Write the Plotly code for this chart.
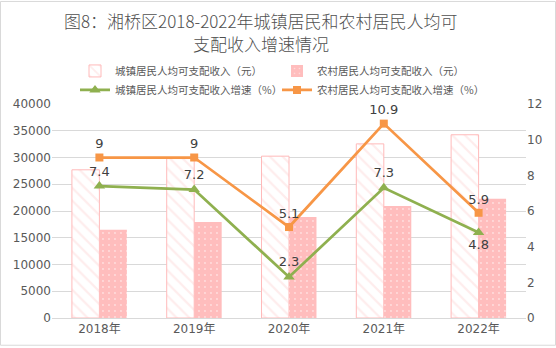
import plotly.graph_objects as go

years = ["2018年", "2019年", "2020年", "2021年", "2022年"]
urban_income = [27700, 29800, 30250, 32550, 34250]
rural_income = [16480, 17960, 18890, 20920, 22280]
urban_growth = [7.4, 7.2, 2.3, 7.3, 4.8]
rural_growth = [9, 9, 5.1, 10.9, 5.9]

urban_growth_pos = ["top center", "top center", "top center", "top center", "bottom center"]
rural_growth_pos = ["top center"] * 5

title_lines = ["图8：湘桥区2018-2022年城镇居民和农村居民人均可", "支配收入增速情况"]

W, H = 556, 348
ML, MR, MT, MB = 52, 30, 104, 28
PW, PH = W - ML - MR, H - MT - MB

PINK = "#FFBDBD"
PINK_LINE = "#FFBABA"
GREEN = "#8FB04F"
ORANGE = "#F79646"
TXT = "#595959"
FONT = "Noto Sans CJK SC, DejaVu Sans, sans-serif"

fig = go.Figure()

fig.add_trace(go.Bar(
    x=years, y=urban_income, name="城镇居民人均可支配收入（元）",
    marker=dict(color="white", line=dict(color=PINK_LINE, width=1),
                pattern=dict(shape="\\", fgcolor="#FDDADA", bgcolor="white",
                             size=9, solidity=0.25)),
    yaxis="y",
))
fig.add_trace(go.Bar(
    x=years, y=rural_income, name="农村居民人均可支配收入（元）",
    marker=dict(color=PINK, line=dict(width=0),
                pattern=dict(shape=".", fgcolor="white", bgcolor=PINK,
                             size=6, solidity=0.08)),
    yaxis="y",
))
fig.add_trace(go.Scatter(
    x=years, y=urban_growth, name="城镇居民人均可支配收入增速（%）",
    mode="lines+markers+text", text=[str(v) for v in urban_growth],
    textposition=urban_growth_pos,
    textfont=dict(size=13, color="#404040", family="DejaVu Sans"),
    line=dict(color=GREEN, width=2.75),
    marker=dict(symbol="triangle-up", size=10, color=GREEN),
    yaxis="y2",
))
fig.add_trace(go.Scatter(
    x=years, y=rural_growth, name="农村居民人均可支配收入增速（%）",
    mode="lines+markers+text", text=[str(v) for v in rural_growth],
    textposition=rural_growth_pos,
    textfont=dict(size=13, color="#404040", family="DejaVu Sans"),
    line=dict(color=ORANGE, width=2.75),
    marker=dict(symbol="square", size=8, color=ORANGE),
    yaxis="y2",
))

# title lines centred at x = 261 px
annotations = []
for i, line in enumerate(title_lines):
    annotations.append(dict(
        text=line, xref="paper", yref="paper", x=(261 - ML) / PW,
        xanchor="center", y=1 + (MT - 20 - 23 * i) / PH, yanchor="middle",
        showarrow=False, font=dict(size=17, color="#505050", family=FONT, weight=300),
    ))

fig.update_layout(
    width=W, height=H,
    margin=dict(l=ML, r=MR, t=MT, b=MB),
    paper_bgcolor="white", plot_bgcolor="white",
    font=dict(family=FONT, color=TXT, size=12),
    barmode="group", bargap=0.42, bargroupgap=0,
    showlegend=True,
    annotations=annotations,
    legend=dict(
        orientation="h", x=(75 - ML) / PW, xanchor="left",
        y=1 + (MT - 56) / PH, yanchor="top",
        entrywidth=157, entrywidthmode="pixels",
        font=dict(size=10.5, color=TXT, family=FONT),
        tracegroupgap=0, itemwidth=30, bgcolor="rgba(0,0,0,0)",
    ),
    xaxis=dict(
        showgrid=False, showline=True, linecolor="#D9D9D9", linewidth=1,
        ticks="", tickfont=dict(size=12, color=TXT, family="DejaVu Sans, " + FONT),
    ),
    yaxis=dict(
        range=[0, 40000], dtick=5000, tickformat="d", showgrid=True,
        gridcolor="#D9D9D9", gridwidth=1, zeroline=False, ticks="",
        tickfont=dict(size=12, color=TXT, family="DejaVu Sans"),
    ),
    yaxis2=dict(
        range=[0, 12], dtick=2, overlaying="y", side="right", showgrid=False,
        zeroline=False, ticks="",
        tickfont=dict(size=12, color=TXT, family="DejaVu Sans"),
    ),
    shapes=[dict(
        type="rect", xref="paper", yref="paper",
        x0=(0.5 - ML) / PW, x1=(W - 0.5 - ML) / PW,
        y0=-(MB - 0.5) / PH, y1=1 + (MT - 0.5) / PH,
        line=dict(color="#D9D9D9", width=1), fillcolor="rgba(0,0,0,0)",
        layer="below",
    )],
)

fig.write_html("out.html")
